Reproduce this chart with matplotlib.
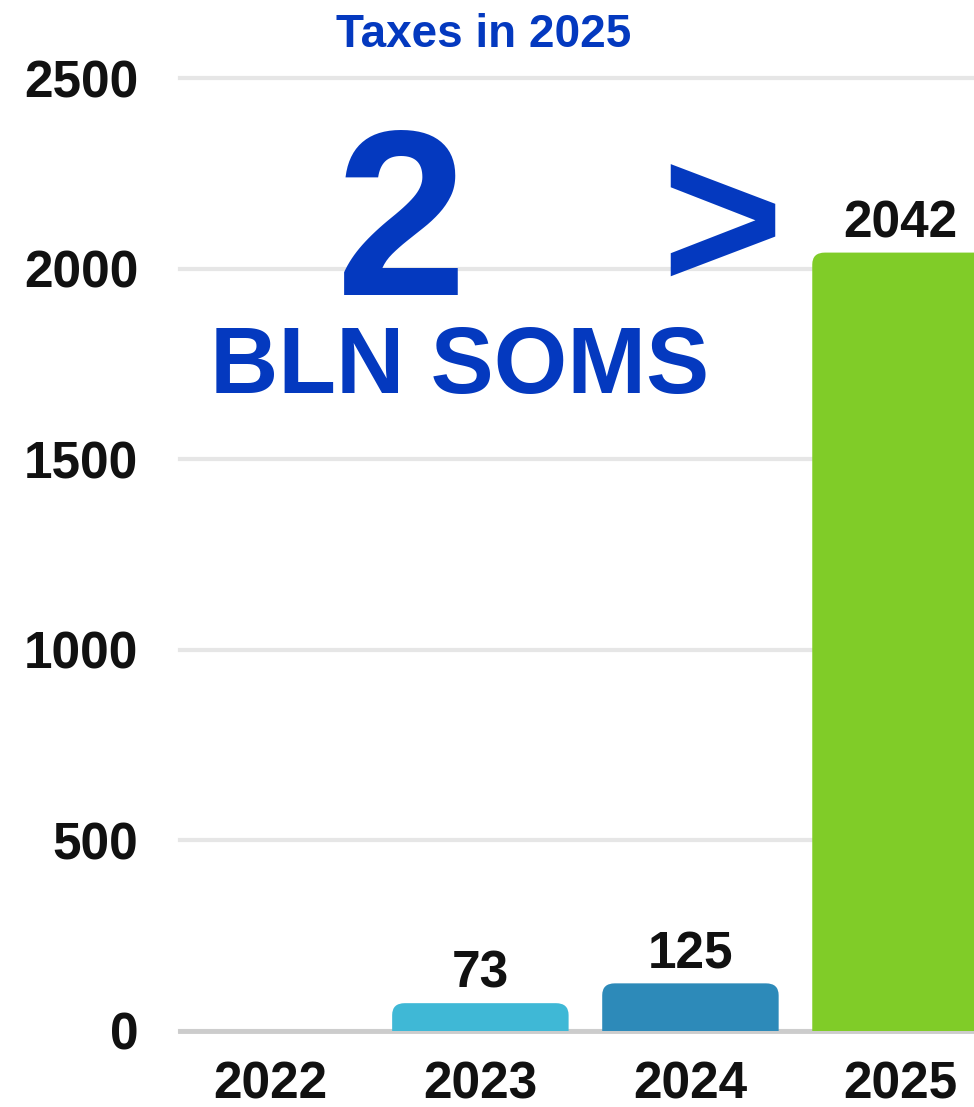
import matplotlib.pyplot as plt
from matplotlib.patches import FancyBboxPatch

# Data
years = ["2022", "2023", "2024", "2025"]
taxes = [0, 73, 125, 2042]
bar_colors = ["#3fb8d6", "#3fb8d6", "#2d8ab9", "#80cc28"]
y_ticks = [0, 500, 1000, 1500, 2000, 2500]

blue = "#0439bf"
plt.rcParams["font.family"] = ["Liberation Sans", "DejaVu Sans"]
plt.rcParams["font.weight"] = "bold"

W, H = 974, 1107
fig = plt.figure(figsize=(W / 100, H / 100), dpi=100)
ax = fig.add_axes([180 / W, (H - 1031) / H, (W - 180) / W, (1031 - 78) / H])

x = list(range(len(years)))
bars = ax.bar(x, taxes, width=0.84, color=bar_colors, zorder=2)

# swap plain bars for ones with rounded top corners
for rect, c in zip(bars, bar_colors):
    if rect.get_height() <= 0:
        rect.remove()
        continue
    x0, w, h = rect.get_x(), rect.get_width(), rect.get_height()
    rect.remove()
    p = FancyBboxPatch((x0, -60), w, h + 60,
                       boxstyle="round,pad=0,rounding_size=0.06",
                       mutation_aspect=520, facecolor=c, edgecolor="none",
                       zorder=2, clip_on=True)
    ax.add_patch(p)

for xi, v in zip(x, taxes):
    if v > 0:
        ax.annotate(str(v), (xi, v), xytext=(0, 11), textcoords="offset points",
                    ha="center", va="baseline", fontsize=37, color="#111111")

ax.set_xlim(-0.43, 3.35)
ax.set_ylim(0, 2500)
ax.set_xticks(x)
ax.set_xticklabels(years)
ax.set_yticks(y_ticks)
ax.tick_params(axis="both", length=0, labelsize=37, labelcolor="#111111")
ax.tick_params(axis="y", pad=30)
ax.tick_params(axis="x", pad=21)
for s in ax.spines.values():
    s.set_visible(False)
ax.yaxis.grid(True, color="#e6e6e6", linewidth=3, zorder=0)
ax.set_axisbelow(True)
for gl in ax.get_ygridlines():
    gl.set_clip_on(False)
ax.axhline(0, color="#cccccc", linewidth=3.5, zorder=1, clip_on=False)

# headline texts
fig.text(484 / W, 1 - 47 / H, "Taxes in 2025", ha="center", va="baseline",
         fontsize=33, color=blue)
fig.text(401 / W, 1 - 295 / H, "2", ha="center", va="baseline",
         fontsize=170, color=blue)
fig.text(722 / W, 1 - 290 / H, ">", ha="center", va="baseline",
         fontsize=150, color=blue)
fig.text(460 / W, 1 - 393 / H, "BLN SOMS", ha="center", va="baseline",
         fontsize=68, color=blue)

fig.savefig("out.png", dpi=100)
